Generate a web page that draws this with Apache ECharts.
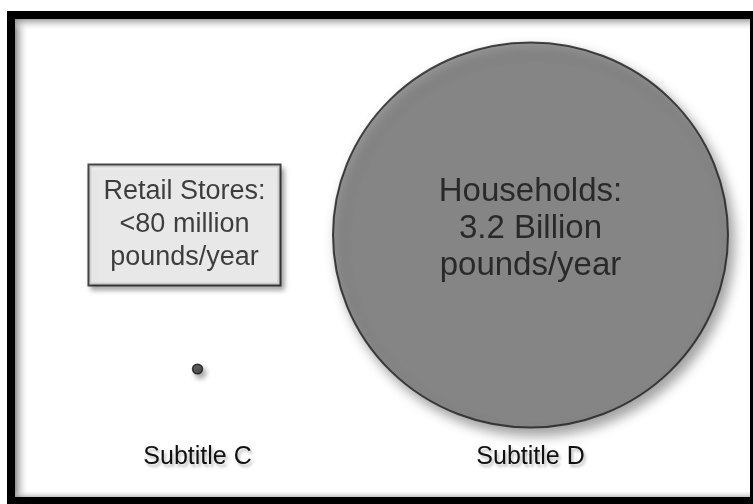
<!DOCTYPE html>
<html>
<head>
<meta charset="utf-8">
<script src="https://cdn.jsdelivr.net/npm/echarts@6/dist/echarts.min.js"></script>
<style>
  html, body { margin: 0; padding: 0; background: #fff; }
  #main { width: 753px; height: 504px; }
</style>
</head>
<body>
<div id="main"></div>
<script>
// ---- data ----
var categories = ['Subtitle C', 'Subtitle D'];
var amounts = [80, 3200]; // million pounds/year
var bubbleLabels = [
  'Retail Stores:\n<80 million\npounds/year',
  'Households:\n3.2 Billion\npounds/year'
];

var FONT = '"Liberation Sans", Arial, Helvetica, sans-serif';
var chart = echarts.init(document.getElementById('main'), null, { renderer: 'canvas' });

var maxAmt = Math.max.apply(null, amounts);
var seriesData = categories.map(function (c, i) {
  var isBig = amounts[i] === maxAmt;
  return {
    value: [c, 0, amounts[i]],
    symbolOffset: isBig ? [0, -134] : [0, 0],
    itemStyle: isBig ? {
      color: '#7d7d7d', borderColor: '#1e1e1e', borderWidth: 2,
      shadowColor: 'rgba(0,0,0,0.45)', shadowBlur: 12, shadowOffsetX: 5, shadowOffsetY: 7
    } : {
      color: '#3a3a3a', borderColor: '#111', borderWidth: 1.5,
      shadowColor: 'rgba(0,0,0,0.4)', shadowBlur: 5, shadowOffsetX: 3, shadowOffsetY: 4
    },
    label: isBig ? {
      show: true, position: 'inside', offset: [0, -6],
      formatter: bubbleLabels[i], fontFamily: FONT, fontSize: 33, lineHeight: 37,
      color: '#111', align: 'center'
    } : {
      show: true, position: 'inside', offset: [-13, -144],
      formatter: bubbleLabels[i], fontFamily: FONT, fontSize: 27, lineHeight: 33,
      color: '#111', align: 'center',
      backgroundColor: '#f4f4f4', borderColor: '#1a1a1a', borderWidth: 2,
      padding: [10, 14, 10, 14],
      shadowColor: 'rgba(0,0,0,0.35)', shadowBlur: 5, shadowOffsetX: 3, shadowOffsetY: 4
    }
  };
});

var option = {
  backgroundColor: '#ffffff',
  animation: false,
  grid: { left: 31, right: 56, top: 20, bottom: 135 },
  xAxis: {
    type: 'category',
    data: categories,
    boundaryGap: true,
    axisLine: { show: false },
    axisTick: { show: false },
    splitLine: { show: false },
    axisLabel: {
      fontFamily: FONT, fontSize: 25, color: '#111', margin: 76,
      textShadowColor: 'rgba(0,0,0,0.25)', textShadowBlur: 3, textShadowOffsetX: 2, textShadowOffsetY: 3
    }
  },
  yAxis: { type: 'value', min: 0, max: 1, show: false },
  graphic: [
    // inner soft shadow of the frame (left and top)
    { type: 'rect', silent: true, z: 0, shape: { x: 15, y: 19, width: 14, height: 480 },
      style: { fill: new echarts.graphic.LinearGradient(0, 0, 1, 0, [
        { offset: 0, color: 'rgba(120,120,120,0.85)' }, { offset: 1, color: 'rgba(255,255,255,0)' }]) } },
    { type: 'rect', silent: true, z: 0, shape: { x: 15, y: 19, width: 738, height: 12 },
      style: { fill: new echarts.graphic.LinearGradient(0, 0, 0, 1, [
        { offset: 0, color: 'rgba(140,140,140,0.8)' }, { offset: 1, color: 'rgba(255,255,255,0)' }]) } },
    { type: 'rect', silent: true, z: 0, shape: { x: 15, y: 490, width: 738, height: 7 },
      style: { fill: new echarts.graphic.LinearGradient(0, 0, 0, 1, [
        { offset: 0, color: 'rgba(255,255,255,0)' }, { offset: 1, color: 'rgba(150,150,150,0.6)' }]) } },
    // black frame
    { type: 'rect', silent: true, z: 100, shape: { x: 11, y: 15, width: 743, height: 486 },
      style: { fill: null, stroke: '#000', lineWidth: 8 } }
  ],
  series: [{
    type: 'scatter',
    encode: { x: 0, y: 1 },
    symbol: 'circle',
    symbolSize: function (v) { return [v[2] * 395 / maxAmt, v[2] * 385 / maxAmt]; },
    data: seriesData,
    z: 5
  }]
};
chart.setOption(option);
</script>
</body>
</html>
